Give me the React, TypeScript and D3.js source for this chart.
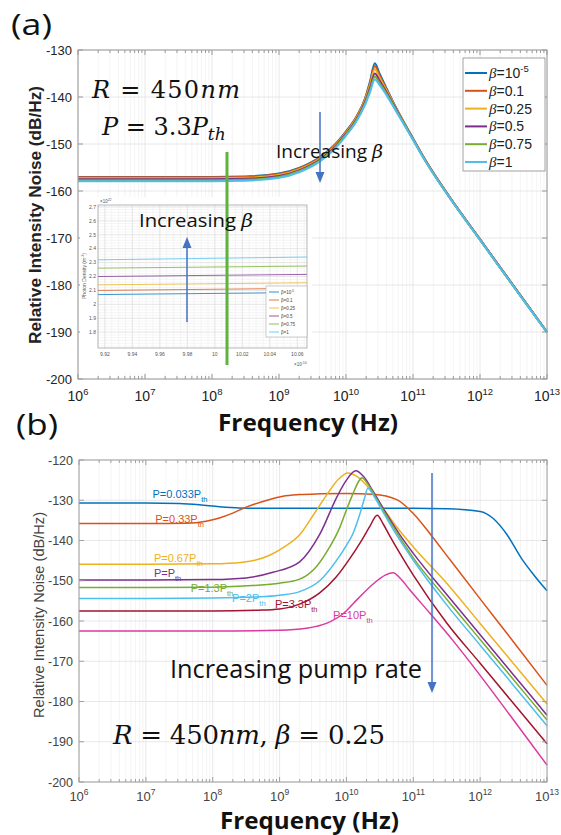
import React from 'react';
import * as d3 from 'd3';

const W = 561;
const H = 835;

const C_BLUE = '#0072BD';
const C_ORANGE = '#D95319';
const C_YELLOW = '#EDB120';
const C_PURPLE = '#7E2F8E';
const C_GREEN = '#77AC30';
const C_CYAN = '#4DBEEE';
const C_RED = '#A2142F';
const C_MAGENTA = '#DB3A9E';
const C_ARROW = '#4472C4';

const FREQ_EXPONENTS = [6, 7, 8, 9, 10, 11, 12, 13];
const A_Y_TICKS = [-130, -140, -150, -160, -170, -180, -190, -200];
const B_Y_TICKS = [-120, -130, -140, -150, -160, -170, -180, -190, -200];

// ---------- Panel (a): RIN vs frequency for several beta ----------
const A_BETA_NAMES = ['10', '0.1', '0.25', '0.5', '0.75', '1'];
const A_BETA_SUPS = ['-5', '', '', '', '', ''];
const A_COLORS = [C_BLUE, C_ORANGE, C_YELLOW, C_PURPLE, C_GREEN, C_CYAN];
const A_LOGF = [6, 7, 8, 8.5, 9, 9.3, 9.6, 9.8, 10, 10.15, 10.28, 10.36, 10.43, 10.5, 10.6, 10.73, 10.93, 11.2, 11.58, 12, 12.5, 13];
const A_RIN_BETA_1E5 = [-157.0, -157.0, -157.0, -156.9, -156.3, -155.1, -152.9, -150.6, -147.3, -144.3, -140.5, -136.6, -132.8, -135.0, -138.0, -141.8, -147.0, -153.8, -162.0, -170.3, -180.2, -190.0];
const A_RIN_BETA_01 = [-157.1, -157.1, -157.1, -157.0, -156.4, -155.2, -153.0, -150.7, -147.4, -144.4, -140.6, -137.0, -133.4, -135.4, -138.2, -141.9, -147.1, -153.8, -162.0, -170.3, -180.2, -190.0];
const A_RIN_BETA_025 = [-157.3, -157.3, -157.3, -157.2, -156.6, -155.4, -153.2, -150.9, -147.6, -144.6, -140.8, -137.4, -134.1, -135.9, -138.5, -142.0, -147.1, -153.9, -162.0, -170.3, -180.2, -190.0];
const A_RIN_BETA_05 = [-157.5, -157.5, -157.5, -157.4, -156.8, -155.6, -153.4, -151.1, -147.8, -144.9, -141.2, -138.0, -135.0, -136.5, -138.9, -142.2, -147.2, -153.9, -162.0, -170.3, -180.2, -190.0];
const A_RIN_BETA_075 = [-157.7, -157.7, -157.7, -157.6, -157.0, -155.8, -153.6, -151.3, -148.0, -145.1, -141.5, -138.5, -135.7, -137.0, -139.2, -142.4, -147.3, -154.0, -162.1, -170.4, -180.3, -190.1];
const A_RIN_BETA_1 = [-157.9, -157.9, -157.9, -157.8, -157.2, -156.0, -153.8, -151.5, -148.2, -145.3, -141.8, -138.9, -136.3, -137.4, -139.5, -142.6, -147.4, -154.0, -162.1, -170.4, -180.3, -190.1];
const A_SERIES = [A_RIN_BETA_1E5, A_RIN_BETA_01, A_RIN_BETA_025, A_RIN_BETA_05, A_RIN_BETA_075, A_RIN_BETA_1];

// inset: photon density
const INSET_X_TICKS = [9.92, 9.94, 9.96, 9.98, 10, 10.02, 10.04, 10.06];
const INSET_Y_TICKS = [1.8, 1.9, 2, 2.1, 2.2, 2.3, 2.4, 2.5, 2.6, 2.7];
const INSET_X_DOMAIN = [9.915, 10.067];
const INSET_Y_DOMAIN = [1.686, 2.714];
const INSET_DENSITY_START = [2.07, 2.10, 2.14, 2.20, 2.26, 2.32];
const INSET_DENSITY_END = [2.085, 2.115, 2.155, 2.215, 2.275, 2.34];

// ---------- Panel (b): RIN vs frequency for several pump rates ----------
const B_NAMES = ['P=0.033P', 'P=0.33P', 'P=0.67P', 'P=P', 'P=1.3P', 'P=2P', 'P=3.3P', 'P=10P'];
const B_COLORS = [C_BLUE, C_ORANGE, C_YELLOW, C_PURPLE, C_GREEN, C_CYAN, C_RED, C_MAGENTA];
const B_P0033_F = [6, 7, 7.5, 7.8, 8.1, 8.4, 9, 10, 11, 11.5, 12, 12.2, 12.4, 12.62, 12.8, 13];
const B_P0033_V = [-130.7, -130.7, -130.8, -131.1, -131.6, -131.9, -132.0, -132.0, -132.0, -132.1, -132.8, -134.6, -138.5, -144.5, -148.5, -152.5];
const B_P033_F = [6, 7, 7.6, 7.9, 8.1, 8.3, 8.5, 8.75, 9.05, 9.3, 9.6, 10, 10.4, 10.76, 11.0, 11.25, 11.55, 12, 12.5, 13];
const B_P033_V = [-135.8, -135.8, -135.7, -135.2, -134.4, -133.2, -131.7, -130.3, -129.0, -128.6, -128.4, -128.3, -128.5, -129.9, -133.3, -138.3, -144.8, -154.5, -165.2, -176.0];
const B_P067_F = [6, 7, 8, 8.45, 8.86, 9.1, 9.3, 9.5, 9.7, 9.88, 10.02, 10.15, 10.3, 10.5, 10.75, 11.0, 11.5, 12, 12.5, 13];
const B_P067_V = [-145.9, -145.9, -145.8, -145.4, -143.6, -141.3, -138.6, -133.8, -128.8, -124.8, -123.2, -124.0, -126.3, -130.8, -136.6, -141.6, -150.6, -160.6, -170.6, -180.6];
const B_P1_F = [6, 7, 8, 8.5, 8.9, 9.3, 9.6, 9.86, 10.0, 10.14, 10.25, 10.4, 10.6, 10.8, 11.0, 11.5, 12, 12.5, 13];
const B_P1_V = [-149.8, -149.8, -149.7, -149.3, -147.9, -145.3, -138.5, -129.1, -125.0, -122.7, -124.0, -127.8, -133.4, -138.6, -143.2, -153.4, -163.4, -173.4, -183.4];
const B_P13_F = [6, 7, 8, 8.6, 9.0, 9.3, 9.55, 9.75, 9.9, 10.0, 10.1, 10.18, 10.23, 10.32, 10.45, 10.6, 10.8, 11.0, 11.5, 12, 12.5, 13];
const B_P13_V = [-151.7, -151.7, -151.6, -151.2, -150.6, -149.6, -146.5, -141.6, -136.8, -132.4, -128.3, -125.4, -124.4, -126.0, -129.6, -133.9, -139.3, -144.3, -154.6, -164.6, -174.6, -184.6];
const B_P2_F = [6, 7, 8, 8.7, 9.0, 9.3, 9.6, 9.85, 10.0, 10.1, 10.2, 10.27, 10.32, 10.42, 10.55, 10.7, 10.85, 11.0, 11.5, 12, 12.5, 13];
const B_P2_V = [-154.4, -154.4, -154.3, -154.0, -153.6, -152.7, -150.0, -145.0, -141.2, -138.2, -133.5, -129.5, -127.0, -129.2, -133.0, -137.3, -141.2, -144.9, -156.0, -166.0, -176.0, -186.0];
const B_P33_F = [6, 7, 8, 8.7, 9.0, 9.3, 9.6, 9.85, 10.05, 10.23, 10.35, 10.46, 10.55, 10.65, 10.8, 11.0, 11.5, 12, 12.5, 13];
const B_P33_V = [-157.5, -157.5, -157.5, -157.3, -157.0, -155.8, -153.0, -149.0, -144.5, -139.9, -136.5, -133.7, -135.9, -138.9, -143.2, -148.6, -160.5, -170.5, -180.5, -190.5];
const B_P10_F = [6, 7, 8, 9.0, 9.4, 9.7, 9.95, 10.17, 10.4, 10.58, 10.7, 10.8, 10.95, 11.24, 11.6, 12, 12.5, 13];
const B_P10_V = [-162.5, -162.5, -162.5, -162.3, -161.8, -160.6, -158.2, -154.5, -150.8, -148.6, -148.0, -149.3, -152.3, -157.9, -165.0, -173.5, -184.6, -195.8];
const B_FREQS = [B_P0033_F, B_P033_F, B_P067_F, B_P1_F, B_P13_F, B_P2_F, B_P33_F, B_P10_F];
const B_VALUES = [B_P0033_V, B_P033_V, B_P067_V, B_P1_V, B_P13_V, B_P2_V, B_P33_V, B_P10_V];
// label anchors in data space (log10 f, dB)
const B_LABEL_LOGF = [7.1, 7.14, 7.12, 7.12, 7.67, 8.29, 8.93, 9.8];
const B_LABEL_DB = [-129.4, -135.6, -145.3, -149.1, -152.8, -155.3, -156.8, -159.5];

const xA = d3.scaleLog().domain([1e6, 1e13]).range([78, 547]);
const yA = d3.scaleLinear().domain([-200, -130]).range([379, 50]);
const xB = d3.scaleLog().domain([1e6, 1e13]).range([79, 547]);
const yB = d3.scaleLinear().domain([-200, -120]).range([782, 460]);
const xI = d3.scaleLinear().domain(INSET_X_DOMAIN).range([98, 307]);
const yI = d3.scaleLinear().domain(INSET_Y_DOMAIN).range([348, 205]);

const MINOR_F: number[] = [];
for (let d = 6; d < 13; d++) for (let k = 2; k < 10; k++) MINOR_F.push(k * Math.pow(10, d));

const SANS = "'Liberation Sans', Arial, sans-serif";
const CAL = "'Open Sans', 'Noto Sans', sans-serif";
const SERIF = "'DejaVu Serif', serif";

function Grid({ x, y, yTicks }: any) {
  const [x0, x1] = x.range();
  const [yb, yt] = y.range();
  return (
    <g>
      {MINOR_F.map((v, i) => (
        <line key={'m' + i} x1={x(v)} x2={x(v)} y1={yt} y2={yb} stroke="#f1f1f1" strokeWidth={0.8} />
      ))}
      {FREQ_EXPONENTS.map((e) => (
        <line key={'M' + e} x1={x(Math.pow(10, e))} x2={x(Math.pow(10, e))} y1={yt} y2={yb} stroke="#e2e2e2" strokeWidth={0.8} />
      ))}
      {yTicks.map((v: number) => (
        <line key={'y' + v} x1={x0} x2={x1} y1={y(v)} y2={y(v)} stroke="#e2e2e2" strokeWidth={0.8} />
      ))}
    </g>
  );
}

function Frame({ x, y, yTicks, stroke, xFont, xSup, xBase, yFont, yEnd, fill }: any) {
  const [x0, x1] = x.range();
  const [yb, yt] = y.range();
  return (
    <g>
      <rect x={x0} y={yt} width={x1 - x0} height={yb - yt} fill="none" stroke={stroke} strokeWidth={1} />
      {MINOR_F.map((v, i) => (
        <g key={'t' + i}>
          <line x1={x(v)} x2={x(v)} y1={yb} y2={yb - 3} stroke={stroke} />
          <line x1={x(v)} x2={x(v)} y1={yt} y2={yt + 3} stroke={stroke} />
        </g>
      ))}
      {FREQ_EXPONENTS.map((e) => (
        <g key={'T' + e}>
          <line x1={x(Math.pow(10, e))} x2={x(Math.pow(10, e))} y1={yb} y2={yb - 5} stroke={stroke} />
          <line x1={x(Math.pow(10, e))} x2={x(Math.pow(10, e))} y1={yt} y2={yt + 5} stroke={stroke} />
          <text x={x(Math.pow(10, e))} y={xBase} textAnchor="middle" fontFamily={SANS} fontSize={xFont} fill={fill}>
            <tspan>10</tspan>
            <tspan dy={-xFont * 0.45} fontSize={xSup}>{e}</tspan>
          </text>
        </g>
      ))}
      {yTicks.map((v: number) => (
        <g key={'Y' + v}>
          <line x1={x0} x2={x0 + 5} y1={y(v)} y2={y(v)} stroke={stroke} />
          <line x1={x1} x2={x1 - 5} y1={y(v)} y2={y(v)} stroke={stroke} />
          <text x={yEnd} y={y(v)} dy="0.36em" textAnchor="end" fontFamily={SANS} fontSize={yFont} fill={fill}>
            {v}
          </text>
        </g>
      ))}
    </g>
  );
}

function Inset() {
  const line = d3.line<[number, number]>().x((d) => xI(d[0])).y((d) => yI(d[1]));
  const minorX = d3.range(9.915, 10.067, 0.005);
  const minorY = d3.range(1.7, 2.71, 0.02);
  return (
    <g>
      <rect x={80} y={197} width={232} height={176} fill="#fff" />
      {minorX.map((v, i) => (
        <line key={'ix' + i} x1={xI(v)} x2={xI(v)} y1={205} y2={348} stroke="#eeeeee" strokeWidth={0.6} />
      ))}
      {minorY.map((v, i) => (
        <line key={'iy' + i} x1={98} x2={307} y1={yI(v)} y2={yI(v)} stroke="#eeeeee" strokeWidth={0.6} />
      ))}
      {INSET_X_TICKS.map((v) => (
        <line key={'gx' + v} x1={xI(v)} x2={xI(v)} y1={205} y2={348} stroke="#dddddd" strokeWidth={0.6} />
      ))}
      {INSET_Y_TICKS.map((v) => (
        <line key={'gy' + v} x1={98} x2={307} y1={yI(v)} y2={yI(v)} stroke="#dddddd" strokeWidth={0.6} />
      ))}
      {INSET_DENSITY_START.map((s, i) => (
        <path
          key={'il' + i}
          d={line([[INSET_X_DOMAIN[0], s], [INSET_X_DOMAIN[1], INSET_DENSITY_END[i]]]) || ''}
          stroke={A_COLORS[i]}
          strokeOpacity={0.75}
          strokeWidth={1}
          fill="none"
        />
      ))}
      <rect x={98} y={205} width={209} height={143} fill="none" stroke="#999" strokeWidth={0.7} />
      {INSET_X_TICKS.map((v) => (
        <text key={'xl' + v} x={xI(v)} y={356} textAnchor="middle" fontFamily={SANS} fontSize={5} fill="#555">
          {v}
        </text>
      ))}
      {INSET_Y_TICKS.map((v) => (
        <text key={'yl' + v} x={96} y={yI(v)} dy="0.35em" textAnchor="end" fontFamily={SANS} fontSize={5} fill="#555">
          {v}
        </text>
      ))}
      <text x={100} y={203} fontFamily={SANS} fontSize={4.5} fill="#555">
        ×10<tspan dy={-2} fontSize={3.5}>22</tspan>
      </text>
      <text x={294} y={366} fontFamily={SANS} fontSize={4.5} fill="#555">
        ×10<tspan dy={-2} fontSize={3.5}>-10</tspan>
      </text>
      <text transform="translate(86,276) rotate(-90)" textAnchor="middle" fontFamily={SANS} fontSize={5} fill="#555">
        Photon Density (m<tspan dy={-2} fontSize={3.5}>-3</tspan>
        <tspan dy={2}>)</tspan>
      </text>
      {/* inset legend */}
      <rect x={266} y={286} width={41} height={51} fill="#fff" stroke="#aaa" strokeWidth={0.6} />
      {A_COLORS.map((c, i) => (
        <g key={'ilg' + i}>
          <line x1={269} x2={279} y1={292 + i * 8} y2={292 + i * 8} stroke={c} strokeWidth={0.8} />
          <text x={281} y={292 + i * 8} dy="0.35em" fontFamily={SANS} fontSize={4.5} fill="#444">
            β={A_BETA_NAMES[i]}
            {A_BETA_SUPS[i] ? <tspan dy={-1.5} fontSize={3.2}>{A_BETA_SUPS[i]}</tspan> : null}
          </text>
        </g>
      ))}
    </g>
  );
}

export default function App() {
  const lineA = d3
    .line<number>()
    .x((_, i) => xA(Math.pow(10, A_LOGF[i])))
    .y((d) => yA(d))
    .curve(d3.curveMonotoneX);

  const lineB = (fs: number[], vs: number[]) =>
    d3
      .line<number>()
      .x((_, i) => xB(Math.pow(10, fs[i])))
      .y((d) => yB(d))
      .curve(d3.curveMonotoneX)(vs) || '';

  return (
    <svg
      width={W}
      height={H}
      viewBox={`0 0 ${W} ${H}`}
      style={{ position: 'absolute', left: 0, top: 0, background: '#fff' }}
    >
      <rect width={W} height={H} fill="#fff" />

      {/* ===== Panel (a) ===== */}
      <text x={11} y={35} fontFamily={CAL} fontSize={30} textLength={41} lengthAdjust="spacingAndGlyphs" fill="#111">
        (a)
      </text>
      <Grid x={xA} y={yA} yTicks={A_Y_TICKS} />
      {A_SERIES.map((s, i) => (
        <path key={'a' + i} d={lineA(s) || ''} fill="none" stroke={A_COLORS[i]} strokeWidth={2} />
      ))}
      <Frame
        x={xA}
        y={yA}
        yTicks={A_Y_TICKS}
        stroke="#9a9a9a"
        xFont={14}
        xSup={9.5}
        xBase={401}
        yFont={13}
        yEnd={72}
        fill="#222"
      />
      <Inset />
      {/* green marker */}
      <line x1={227} x2={227} y1={152} y2={365} stroke="#5DB33E" strokeWidth={3} />
      {/* inset annotation */}
      <text x={139} y={227} fontFamily={CAL} fontSize={19} fill="#111" textLength={114} lengthAdjust="spacingAndGlyphs">
        Increasing <tspan fontFamily={SERIF} fontStyle="italic">β</tspan>
      </text>
      <line x1={187} x2={187} y1={322} y2={246} stroke={C_ARROW} strokeWidth={1.5} />
      <path d="M187,237 L182.5,248 L191.5,248 Z" fill={C_ARROW} />

      {/* main annotation */}
      <text x={276} y={158} fontFamily={CAL} fontSize={19} fill="#111" textLength={107} lengthAdjust="spacingAndGlyphs">
        Increasing <tspan fontFamily={SERIF} fontStyle="italic">β</tspan>
      </text>
      <line x1={320} x2={320} y1={112} y2={174} stroke={C_ARROW} strokeWidth={1.5} />
      <path d="M320,183 L315.5,172 L324.5,172 Z" fill={C_ARROW} />

      <text x={92} y={98} fontFamily={SERIF} fontSize={24} fill="#111" textLength={148} style={{ whiteSpace: 'pre' }}>
        <tspan fontStyle="italic">R</tspan> = 450<tspan fontStyle="italic">nm</tspan>
      </text>
      <text x={102} y={135} fontFamily={SERIF} fontSize={24} fill="#111" style={{ whiteSpace: 'pre' }}>
        <tspan fontStyle="italic">P</tspan> = 3.3<tspan fontStyle="italic">P</tspan>
        <tspan fontStyle="italic" fontSize={17} dy={5}>th</tspan>
      </text>

      {/* legend (a) */}
      <rect x={463} y={58} width={82} height={113} fill="#fff" stroke="#8a8a8a" strokeWidth={0.8} />
      {A_COLORS.map((c, i) => (
        <g key={'lg' + i}>
          <line x1={465} x2={487} y1={73 + i * 17.8} y2={73 + i * 17.8} stroke={c} strokeWidth={2} />
          <text x={489} y={73 + i * 17.8} dy="0.36em" fontFamily={SANS} fontSize={14} fill="#222">
            <tspan fontFamily="'Liberation Serif', serif" fontStyle="italic" fontSize={15}>β</tspan>={A_BETA_NAMES[i]}
            {A_BETA_SUPS[i] ? <tspan dy={-6} fontSize={9.5}>{A_BETA_SUPS[i]}</tspan> : null}
          </text>
        </g>
      ))}

      <text
        transform="translate(41,215) rotate(-90)"
        textAnchor="middle"
        fontFamily={SANS}
        fontWeight="bold"
        fontSize={16.5}
        fill="#222"
        textLength={258}
        lengthAdjust="spacingAndGlyphs"
      >
        Relative Intensity Noise (dB/Hz)
      </text>
      <text x={218} y={431} fontFamily={CAL} fontWeight="bold" fontSize={23} fill="#111" textLength={180} lengthAdjust="spacingAndGlyphs">
        Frequency (Hz)
      </text>

      {/* ===== Panel (b) ===== */}
      <text x={16} y={435} fontFamily={CAL} fontSize={30} textLength={42} lengthAdjust="spacingAndGlyphs" fill="#111">
        (b)
      </text>
      <Grid x={xB} y={yB} yTicks={B_Y_TICKS} />
      {B_VALUES.map((vs, i) => (
        <path key={'b' + i} d={lineB(B_FREQS[i], vs)} fill="none" stroke={B_COLORS[i]} strokeWidth={1.5} />
      ))}
      <Frame
        x={xB}
        y={yB}
        yTicks={B_Y_TICKS}
        stroke="#a0a0a0"
        xFont={13}
        xSup={8.5}
        xBase={801}
        yFont={12.5}
        yEnd={73}
        fill="#444"
      />
      {B_NAMES.map((n, i) => (
        <text
          key={'bl' + i}
          x={xB(Math.pow(10, B_LABEL_LOGF[i]))}
          y={yB(B_LABEL_DB[i])}
          fontFamily={SANS}
          fontSize={11}
          fill={B_COLORS[i]}
        >
          {n}
          <tspan dy={4} fontSize={7.5}>th</tspan>
        </text>
      ))}
      <text x={170} y={678} fontFamily={CAL} fontSize={26} fill="#111" textLength={252} lengthAdjust="spacingAndGlyphs">
        Increasing pump rate
      </text>
      <line x1={432} x2={432} y1={473} y2={684} stroke={C_ARROW} strokeWidth={1.5} />
      <path d="M432,693 L427.5,682 L436.5,682 Z" fill={C_ARROW} />

      <text x={113} y={744} fontFamily={SERIF} fontSize={26} fill="#111" textLength={272} style={{ whiteSpace: 'pre' }}>
        <tspan fontStyle="italic">R</tspan> = 450<tspan fontStyle="italic">nm</tspan>, <tspan fontStyle="italic">β</tspan> = 0.25
      </text>

      <text
        transform="translate(44,615) rotate(-90)"
        textAnchor="middle"
        fontFamily={SANS}
        fontSize={14}
        fill="#444"
        textLength={206}
        lengthAdjust="spacingAndGlyphs"
      >
        Relative Intensity Noise (dB/Hz)
      </text>
      <text x={220} y={829} fontFamily={CAL} fontWeight="bold" fontSize={23} fill="#111" textLength={179} lengthAdjust="spacingAndGlyphs">
        Frequency (Hz)
      </text>
    </svg>
  );
}
